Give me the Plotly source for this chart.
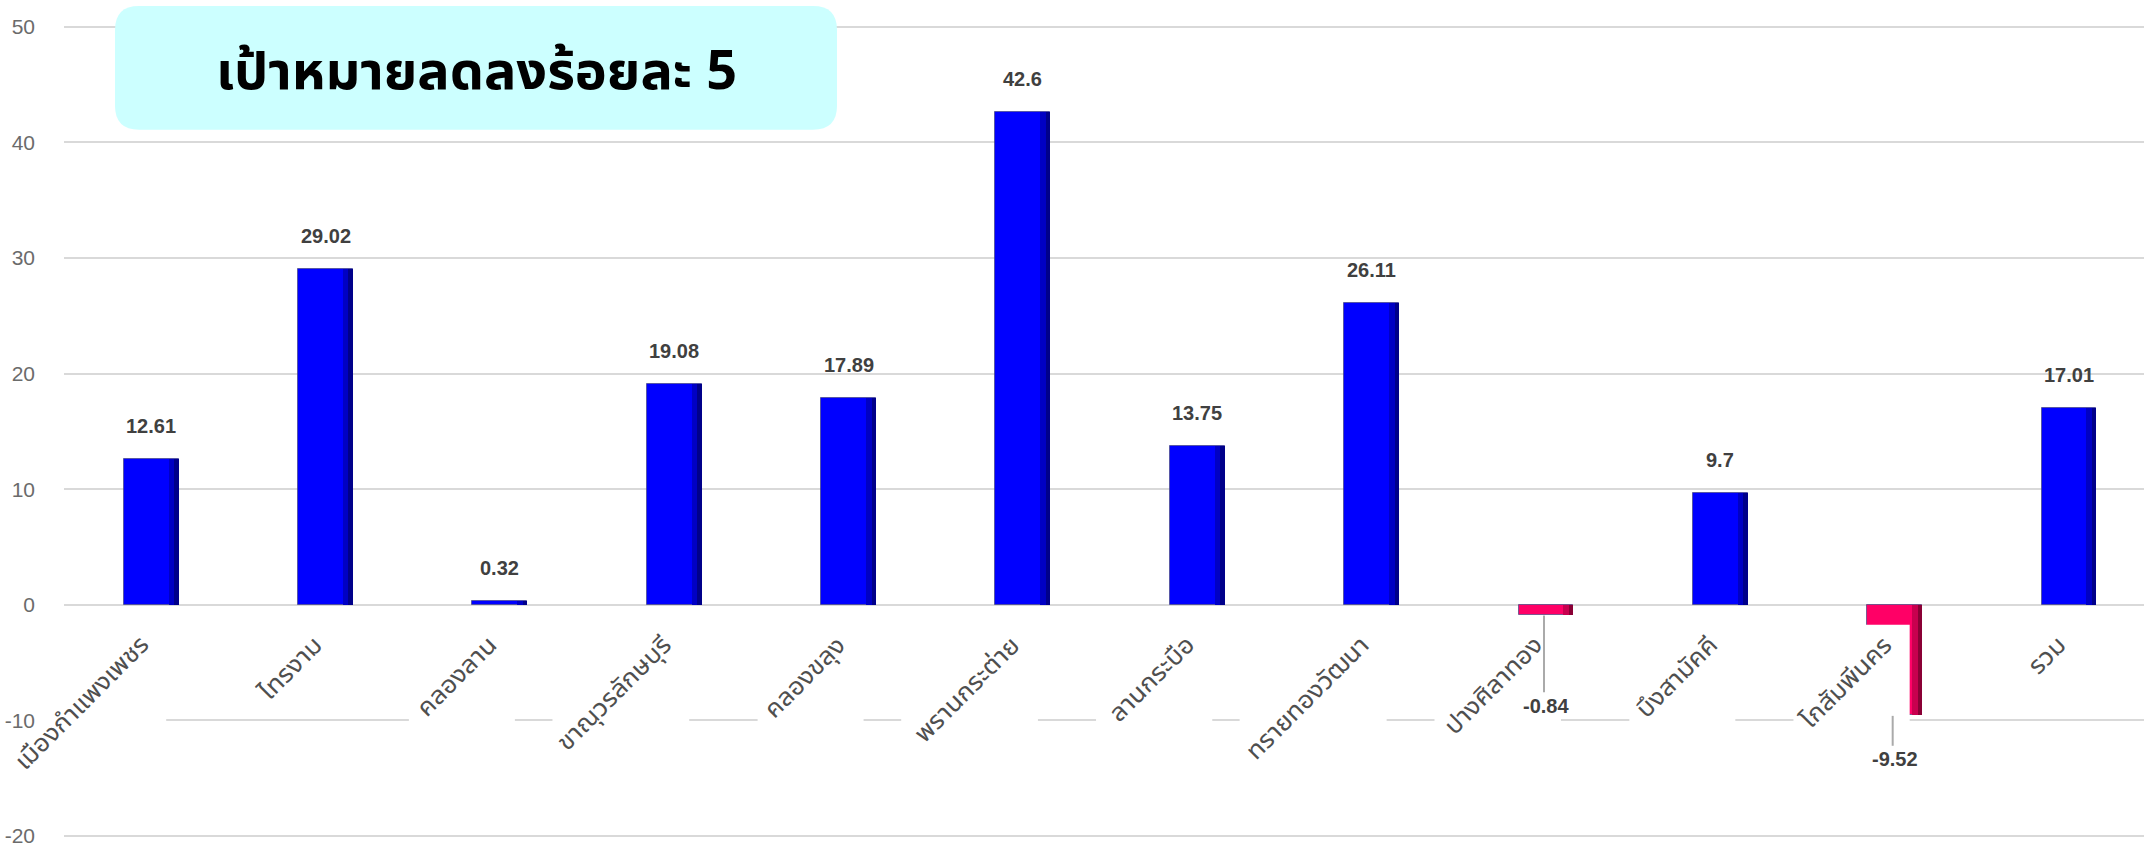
import math
import unicodedata
import plotly.graph_objects as go

# ---------------- data ----------------
categories = ["เมืองกำแพงเพชร", "ไทรงาม", "คลองลาน", "ขาณุวรลักษบุรี", "คลองขลุง",
              "พรานกระต่าย", "ลานกระบือ", "ทรายทองวัฒนา", "ปางศิลาทอง", "บึงสามัคคี",
              "โกสัมพีนคร", "รวม"]
values = [12.61, 29.02, 0.32, 19.08, 17.89, 42.6, 13.75, 26.11, -0.84, 9.7, -9.52, 17.01]
y_ticks = [-20, -10, 0, 10, 20, 30, 40, 50]
y_tick_labels = ["-20", "-10", "0", "10", "20", "30", "40", "50"]
title_text = "เป้าหมายลดลงร้อยละ 5"

# ---------------- layout geometry ----------------
W, H = 2144, 847
PYU = 11.6                       # px per y unit
YMIN, YMAX = -20.6, 50.4
ML, MR, MT = 64, 0, 22
PH = (YMAX - YMIN) * PYU
MB = H - MT - PH
XMIN, XMAX = -0.5, 11.43
PW = W - ML - MR
PXC = PW / (XMAX - XMIN)        # px per category

BAR_W = 0.315
STRIP1 = 0.032
STRIP2 = 0.026

THAI = "Noto Sans Thai UI, Noto Sans Thai, Noto Sans, sans-serif"
NUM = "Arial, Liberation Sans, sans-serif"

pos_main, pos_dark1, pos_dark2 = "#0000FF", "#0000C4", "#00008A"
neg_main, neg_dark1, neg_dark2 = "#FF0066", "#C8004F", "#8A0035"

main_cols = [pos_main if v >= 0 else neg_main for v in values]
d1_cols = [pos_dark1 if v >= 0 else neg_dark1 for v in values]
d2_cols = [pos_dark2 if v >= 0 else neg_dark2 for v in values]

xs = list(range(len(categories)))

fig = go.Figure()
fig.add_trace(go.Bar(x=xs, y=values, width=BAR_W, offset=-BAR_W / 2,
                     marker=dict(color=main_cols, line=dict(color="rgba(70,70,130,0.7)", width=1)),
                     hoverinfo="skip", showlegend=False))
fig.add_trace(go.Bar(x=xs, y=values, width=STRIP1 + STRIP2, offset=BAR_W / 2 - STRIP1 - STRIP2,
                     marker=dict(color=d1_cols, line=dict(width=0)),
                     hoverinfo="skip", showlegend=False))
fig.add_trace(go.Bar(x=xs, y=values, width=STRIP2, offset=BAR_W / 2 - STRIP2,
                     marker=dict(color=d2_cols, line=dict(width=0)),
                     hoverinfo="skip", showlegend=False))

shapes = []
annotations = []

# white label backgrounds (as in reference, labels occlude bars/gridlines)
def spacing_chars(t):
    return sum(1 for c in t if unicodedata.category(c) != "Mn")

LABEL_TOP = 19
BOX_TOP = 20
for i, cat in enumerate(categories):
    L = spacing_chars(cat) * 14.5
    s = (L + 30) / math.sqrt(2)
    x0 = i + (2 - s) / PXC
    x1 = i + 15 / PXC
    y1 = -BOX_TOP / PYU
    y0 = -(27 + s) / PYU
    shapes.append(dict(type="rect", xref="x", yref="y", x0=x0, x1=x1, y0=y0, y1=y1,
                       fillcolor="white", line=dict(width=0), layer="above"))
    annotations.append(dict(x=i, y=0, xref="x", yref="y", text=cat, showarrow=False,
                            textangle=-45, xanchor="right", yanchor="top",
                            xshift=7, yshift=-LABEL_TOP,
                            font=dict(family=THAI, size=26, color="#4f4f4f")))

# value labels
neg_shift = {8: -91, 10: -44}
for i, v in enumerate(values):
    txt = f"{v:g}"
    if v >= 0:
        annotations.append(dict(x=i, y=v, xref="x", yref="y", text=f"<b>{txt}</b>",
                                showarrow=False, yshift=33, yanchor="middle",
                                font=dict(family=NUM, size=20, color="#404040")))
    else:
        sh = neg_shift.get(i, -44)
        annotations.append(dict(x=i, y=v, xref="x", yref="y", text=f"<b>{txt}</b>",
                                showarrow=False, yshift=sh, yanchor="middle",
                                font=dict(family=NUM, size=20, color="#404040")))
        y_end = v - (abs(sh) - 13) / PYU
        shapes.append(dict(type="line", xref="x", yref="y", x0=i - 2 / PXC, x1=i - 2 / PXC,
                           y0=v - 1 / PYU, y1=y_end,
                           line=dict(color="#aaaaaa", width=2), layer="above"))

# title box (rounded)
def px2paper_x(px):
    return (px - ML) / PW

def px2paper_y(py):
    return (H - MB - py) / PH

bx0, bx1, by0, by1, r = 115, 837, 6, 130, 24
X0, X1 = px2paper_x(bx0), px2paper_x(bx1)
Yt, Yb = px2paper_y(by0), px2paper_y(by1)
rx, ry = r / PW, r / PH
path = (f"M {X0+rx},{Yt} L {X1-rx},{Yt} Q {X1},{Yt} {X1},{Yt-ry} "
        f"L {X1},{Yb+ry} Q {X1},{Yb} {X1-rx},{Yb} "
        f"L {X0+rx},{Yb} Q {X0},{Yb} {X0},{Yb+ry} "
        f"L {X0},{Yt-ry} Q {X0},{Yt} {X0+rx},{Yt} Z")
shapes.append(dict(type="path", xref="paper", yref="paper", path=path,
                   fillcolor="#CCFFFF", line=dict(width=0), layer="above"))
annotations.append(dict(x=px2paper_x((bx0 + bx1) / 2), y=px2paper_y(68), xref="paper", yref="paper",
                        text=f"<b>{title_text}</b>", showarrow=False,
                        xanchor="center", yanchor="middle",
                        font=dict(family=THAI, size=54, color="#000000")))

fig.update_layout(
    width=W, height=H,
    margin=dict(l=ML, r=MR, t=MT, b=MB, pad=0),
    paper_bgcolor="white", plot_bgcolor="white",
    barmode="overlay", bargap=0,
    shapes=shapes, annotations=annotations,
    showlegend=False,
    xaxis=dict(range=[XMIN, XMAX], showticklabels=False, showgrid=False, zeroline=False,
               showline=False, ticks="", fixedrange=True),
    yaxis=dict(range=[YMIN, YMAX], tickvals=y_ticks, ticktext=y_tick_labels,
               showgrid=True, gridcolor="#d9d9d9",
               gridwidth=2, zeroline=True, zerolinecolor="#d9d9d9", zerolinewidth=2,
               showline=False, ticks="", ticklabelstandoff=28, ticklabeloverflow="allow",
               tickfont=dict(family=NUM, size=21, color="#6b6b6b")),
)

fig.write_html("out.html", config={"displayModeBar": False},
               post_script="document.body.style.margin='0';document.body.style.overflow='hidden';")
